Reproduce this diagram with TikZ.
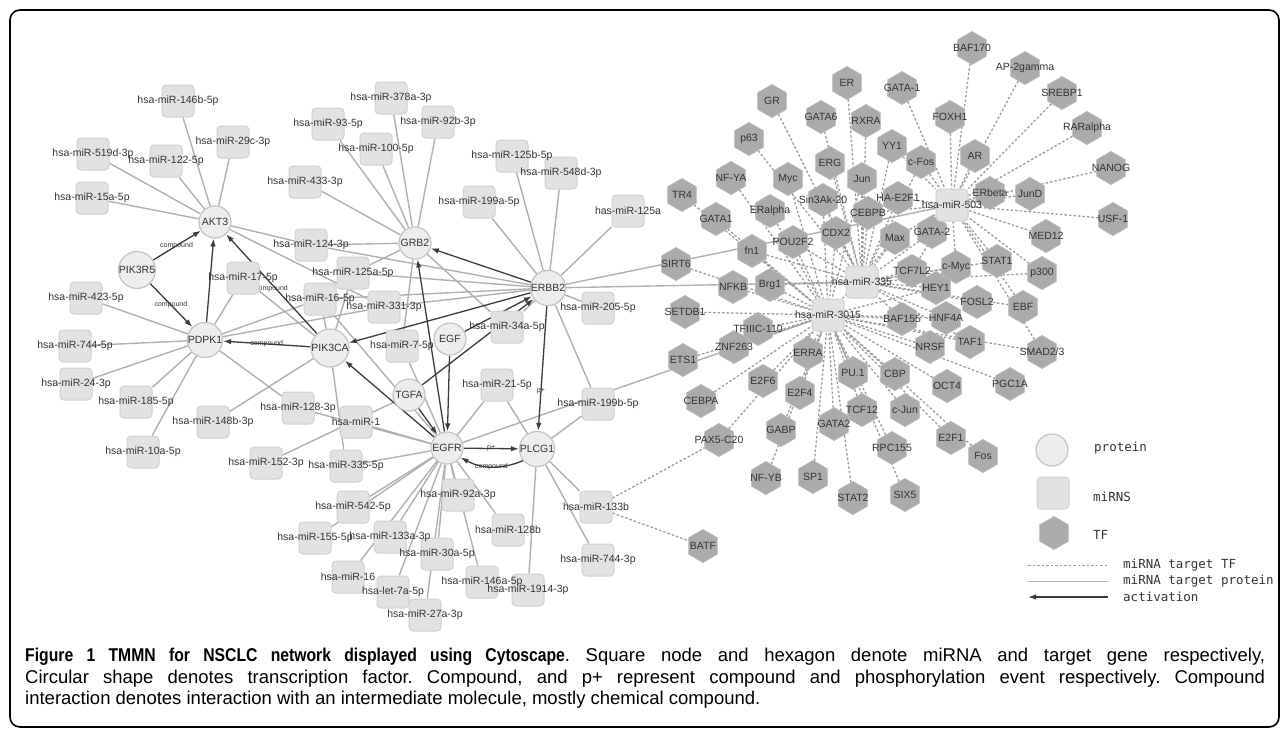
\documentclass[tikz,border=0pt]{standalone}
\usepackage{fontspec}
\setmainfont{Liberation Sans}[BoldFeatures={FakeStretch=0.85}]
\newfontfamily\legfont{DejaVu Sans Mono}
\usetikzlibrary{shapes.geometric,arrows.meta,calc}
\pgfdeclarelayer{bg}\pgfdeclarelayer{fg}\pgfsetlayers{bg,main,fg}
\definecolor{protfill}{HTML}{EDEDED}
\definecolor{protline}{HTML}{C4C4C4}
\definecolor{mirfill}{HTML}{E2E2E2}
\definecolor{mirline}{HTML}{D0D0D0}
\definecolor{tffill}{HTML}{ABABAB}
\definecolor{tfline}{HTML}{B9B9B9}
\definecolor{lbltext}{HTML}{333333}
\definecolor{edgecol}{HTML}{B0B0B0}
\definecolor{dashcol}{HTML}{9C9C9C}
\definecolor{actcol}{HTML}{3C3C3C}
\newcommand\lblfont{\fontsize{10.5}{12}\selectfont}
\newcommand\elblfont{\fontsize{7}{8}\selectfont}
\newcommand\capfont{\fontsize{18.5}{21.5}\selectfont}
\tikzset{
  prot/.style={circle, draw=protline, fill=protfill, line width=1.2pt, minimum size=32pt, inner sep=0pt, font=\lblfont, text=lbltext},
  mirbox/.style={rectangle, rounded corners=4pt, draw=mirline, fill=mirfill, line width=1pt, minimum size=32pt, inner sep=0pt},
  tfbox/.style={regular polygon, regular polygon sides=6, shape border rotate=30, draw=tfline, fill=tffill, line width=0.8pt, minimum size=33pt, inner sep=0pt},
  lbl/.style={font=\lblfont, text=lbltext, inner sep=0pt},
  gedge/.style={draw=edgecol, line width=1.4pt},
  tfedge/.style={draw=dashcol, line width=1.3pt, dash pattern=on 2.5pt off 2pt},
  act/.style={draw=actcol, line width=1.3pt, -{Latex[length=8pt,width=5.5pt]}},
  elbl/.style={font=\elblfont, text=lbltext, inner sep=0.5pt},
  legtext/.style={font=\legfont\fontsize{12.5}{14}\selectfont, text=lbltext, anchor=west, inner sep=0pt},
  frame/.style={draw=black, line width=1.6pt, rounded corners=10pt},
  captext/.style={font=\capfont, text width=1240pt, align=justify, anchor=north west, inner sep=0pt}
}
\newcommand\mirn[4]{\node[mirbox] (#1) at (#2,#3) {};\begin{pgfonlayer}{fg}\node[lbl] at (#1) {#4};\end{pgfonlayer}}
\newcommand\tfn[4]{\node[tfbox] (#1) at (#2,#3) {};\begin{pgfonlayer}{fg}\node[lbl] at (#1) {#4};\end{pgfonlayer}}
\begin{document}
\frenchspacing
\begin{tikzpicture}[x=1pt,y=-1pt]
\useasboundingbox (0,0) rectangle (1285,734);
\draw[frame] (10,10) rectangle (1279,727);

% ---------- proteins ----------
\node[prot] (AKT3) at (215,222) {AKT3};
\node[prot] (PIK3R5) at (137,270) {PIK3R5};
\node[prot] (PDPK1) at (205,340) {PDPK1};
\node[prot] (PIK3CA) at (330,348) {PIK3CA};
\node[prot] (GRB2) at (415,243) {GRB2};
\node[prot] (ERBB2) at (548,288) {ERBB2};
\node[prot] (EGF) at (450,339) {EGF};
\node[prot] (TGFA) at (409,395) {TGFA};
\node[prot] (EGFR) at (447,448) {EGFR};
\node[prot] (PLCG1) at (537,449) {PLCG1};

% ---------- miRNAs ----------
\mirn{m146b}{178}{101}{hsa-miR-146b-5p}
\mirn{m29c}{233}{142}{hsa-miR-29c-3p}
\mirn{m519d}{93}{154}{hsa-miR-519d-3p}
\mirn{m122}{166}{161}{hsa-miR-122-5p}
\mirn{m15a}{92}{198}{hsa-miR-15a-5p}
\mirn{m124}{311}{245}{hsa-miR-124-3p}
\mirn{m17}{243}{278}{hsa-miR-17-5p}
\mirn{m423}{86}{298}{hsa-miR-423-5p}
\mirn{m744f}{75}{346}{hsa-miR-744-5p}
\mirn{m24}{76}{384}{hsa-miR-24-3p}
\mirn{m185}{136}{402}{hsa-miR-185-5p}
\mirn{m10a}{143}{452}{hsa-miR-10a-5p}
\mirn{m148b}{213}{422}{hsa-miR-148b-3p}
\mirn{m128}{298}{408}{hsa-miR-128-3p}
\mirn{m152}{266}{463}{hsa-miR-152-3p}
\mirn{m335f}{346}{466}{hsa-miR-335-5p}
\mirn{m1}{356}{422}{hsa-miR-1}
\mirn{m16f}{320}{299}{hsa-miR-16-5p}
\mirn{m125af}{353}{273}{hsa-miR-125a-5p}
\mirn{m331}{384}{307}{hsa-miR-331-3p}
\mirn{m7}{402}{346}{hsa-miR-7-5p}
\mirn{m34a}{507}{327}{hsa-miR-34a-5p}
\mirn{m21}{497}{385}{hsa-miR-21-5p}
\mirn{m433}{305}{182}{hsa-miR-433-3p}
\mirn{m93}{328}{124}{hsa-miR-93-5p}
\mirn{m378a}{391}{98}{hsa-miR-378a-3p}
\mirn{m92b}{438}{122}{hsa-miR-92b-3p}
\mirn{m100}{376}{149}{hsa-miR-100-5p}
\mirn{m199a}{479}{202}{hsa-miR-199a-5p}
\mirn{m125b}{512}{156}{hsa-miR-125b-5p}
\mirn{m548d}{561}{173}{hsa-miR-548d-3p}
\mirn{m125a}{628}{211}{has-miR-125a}
\mirn{m205}{598}{308}{hsa-miR-205-5p}
\mirn{m199b}{598}{404}{hsa-miR-199b-5p}
\mirn{m92a}{458}{495}{hsa-miR-92a-3p}
\mirn{m542}{353}{507}{hsa-miR-542-5p}
\mirn{m155}{315}{538}{hsa-miR-155-5p}
\mirn{m133a}{390}{537}{hsa-miR-133a-3p}
\mirn{m30a}{437}{554}{hsa-miR-30a-5p}
\mirn{m16}{348}{577}{hsa-miR-16}
\mirn{let7a}{393}{592}{hsa-let-7a-5p}
\mirn{m146a}{482}{582}{hsa-miR-146a-5p}
\mirn{m27a}{425}{615}{hsa-miR-27a-3p}
\mirn{m1914}{528}{590}{hsa-miR-1914-3p}
\mirn{m128b}{508}{530}{hsa-miR-128b}
\mirn{m744t}{598}{560}{hsa-miR-744-3p}
\mirn{m133b}{596}{507}{hsa-miR-133b}

% ---------- TFs ----------
\tfn{tBAF170}{972}{48}{BAF170}
\tfn{tAPtwo}{1025}{68}{AP-2gamma}
\tfn{tSREBP1}{1062}{93}{SREBP1}
\tfn{tRARa}{1087}{128}{RARalpha}
\tfn{tNANOG}{1111}{168}{NANOG}
\tfn{tUSF1}{1113}{219}{USF-1}
\tfn{tMED12}{1046}{236}{MED12}
\tfn{tAR}{975}{156}{AR}
\tfn{tFOXH1}{950}{117}{FOXH1}
\tfn{tGATA1b}{902}{88}{GATA-1}
\tfn{tER}{847}{83}{ER}
\tfn{tGR}{772}{101}{GR}
\tfn{tGATA6}{821}{117}{GATA6}
\tfn{tRXRA}{866}{121}{RXRA}
\tfn{tp63}{749}{139}{p63}
\tfn{tYY1}{892}{146}{YY1}
\tfn{tERG}{830}{163}{ERG}
\tfn{tcFos}{921}{162}{c-Fos}
\tfn{tNFYA}{731}{178}{NF-YA}
\tfn{tMyc}{788}{179}{Myc}
\tfn{tJun}{862}{179}{Jun}
\tfn{tTR4}{682}{195}{TR4}
\tfn{tSin3}{823}{200}{Sin3Ak-20}
\tfn{tHAE2F1}{898}{198}{HA-E2F1}
\tfn{tERbeta}{990}{193}{ERbeta}
\tfn{tJunD}{1030}{194}{JunD}
\tfn{tGATA1a}{716}{219}{GATA1}
\tfn{tERa}{770}{211}{ERalpha}
\tfn{tCEBPB}{868}{213}{CEBPB}
\tfn{tPOU}{793}{242}{POU2F2}
\tfn{tCDX2}{836}{233}{CDX2}
\tfn{tMax}{895}{238}{Max}
\tfn{tGATA2b}{932}{232}{GATA-2}
\tfn{tfn1}{752}{251}{fn1}
\tfn{tSIRT6}{676}{264}{SIRT6}
\tfn{tNFKB}{733}{287}{NFKB}
\tfn{tBrg1}{770}{285}{Brg1}
\tfn{tTCF7L2}{912}{271}{TCF7L2}
\tfn{tcMyc}{956}{267}{c-Myc}
\tfn{tSTAT1}{997}{261}{STAT1}
\tfn{tp300}{1042}{273}{p300}
\tfn{tHEY1}{936}{288}{HEY1}
\tfn{tFOSL2}{977}{302}{FOSL2}
\tfn{tEBF}{1023}{307}{EBF}
\tfn{tSETDB1}{685}{312}{SETDB1}
\tfn{tTFIIIC}{758}{329}{TFIIIC-110}
\tfn{tBAF155}{902}{319}{BAF155}
\tfn{tHNF4A}{946}{318}{HNF4A}
\tfn{tTAF1}{970}{342}{TAF1}
\tfn{tSMAD}{1042}{352}{SMAD2/3}
\tfn{tZNF263}{734}{347}{ZNF263}
\tfn{tETS1}{683}{360}{ETS1}
\tfn{tERRA}{808}{353}{ERRA}
\tfn{tNRSF}{930}{347}{NRSF}
\tfn{tE2F6}{763}{381}{E2F6}
\tfn{tE2F4}{800}{393}{E2F4}
\tfn{tPU1}{853}{373}{PU.1}
\tfn{tCBP}{895}{374}{CBP}
\tfn{tOCT4}{947}{386}{OCT4}
\tfn{tPGC1A}{1010}{384}{PGC1A}
\tfn{tCEBPA}{701}{401}{CEBPA}
\tfn{tTCF12}{862}{410}{TCF12}
\tfn{tcJun}{905}{410}{c-Jun}
\tfn{tGATA2a}{834}{424}{GATA2}
\tfn{tGABP}{781}{430}{GABP}
\tfn{tPAX5}{719}{440}{PAX5-C20}
\tfn{tRPC155}{892}{448}{RPC155}
\tfn{tE2F1}{951}{438}{E2F1}
\tfn{tFos}{983}{456}{Fos}
\tfn{tNFYB}{766}{478}{NF-YB}
\tfn{tSP1}{813}{477}{SP1}
\tfn{tSTAT2}{853}{498}{STAT2}
\tfn{tSIX5}{905}{495}{SIX5}
\tfn{tBATF}{703}{546}{BATF}

% central miRNAs of the TF cluster
\mirn{mA}{952}{205}{hsa-miR-503}
\mirn{mB}{862}{282}{hsa-miR-335}
\mirn{mC}{828}{315}{hsa-miR-3015}

% ---------- edges ----------
\begin{pgfonlayer}{bg}
\foreach \a/\b in {AKT3/m146b,AKT3/m29c,AKT3/m519d,AKT3/m122,AKT3/m15a,AKT3/m124,AKT3/m331,
  GRB2/m433,GRB2/m93,GRB2/m378a,GRB2/m100,GRB2/m92b,GRB2/m124,GRB2/m125af,GRB2/m7,GRB2/m34a,
  ERBB2/m199a,ERBB2/m125b,ERBB2/m548d,ERBB2/m125a,ERBB2/m205,ERBB2/m34a,ERBB2/m199b,ERBB2/m16f,ERBB2/m331,ERBB2/m125af,ERBB2/m124,ERBB2/mA,ERBB2/mB,
  PDPK1/m423,PDPK1/m744f,PDPK1/m24,PDPK1/m185,PDPK1/m10a,PDPK1/m128,PDPK1/m17,PDPK1/m16f,PDPK1/m331,
  PIK3CA/m17,PIK3CA/m16f,PIK3CA/m148b,PIK3CA/m335f,PIK3CA/m125af,
  EGFR/m1,EGFR/m335f,EGFR/m128,EGFR/m542,EGFR/m155,EGFR/m133a,EGFR/m16,EGFR/let7a,EGFR/m30a,EGFR/m27a,EGFR/m146a,EGFR/m92a,EGFR/m128b,EGFR/m7,EGFR/m21,EGFR/mC,EGFR/m16f,
  TGFA/m152,
  PLCG1/m21,PLCG1/m133b,PLCG1/m744t,PLCG1/m1914,PLCG1/m199b}
  \draw[gedge] (\a) -- (\b);
\foreach \t in {tBAF170,tAPtwo,tSREBP1,tRARa,tNANOG,tUSF1,tMED12,tAR,tFOXH1,tGATA1b,tERbeta,tJunD,tcFos,tYY1,tHAE2F1,tGATA2b,tp300,tSTAT1,tEBF,tcMyc,tTCF7L2,tMax,tCEBPB,tSMAD}
  \draw[tfedge] (\t) -- (mA);
\foreach \t in {tER,tGR,tGATA6,tRXRA,tERG,tJun,tSin3,tCEBPB,tCDX2,tMax,tTCF7L2,tcMyc,tHEY1,tFOSL2,tEBF,tTAF1,tHNF4A,tp63,tPOU,tfn1,tBrg1,tGATA2b,tHAE2F1,tYY1,tcFos,tBAF155,tSTAT1,tp300}
  \draw[tfedge] (\t) -- (mB);
\foreach \t in {tTR4,tGATA1a,tNFYA,tMyc,tERa,tSIRT6,tNFKB,tSETDB1,tTFIIIC,tZNF263,tETS1,tCEBPA,tE2F6,tE2F4,tERRA,tPU1,tCBP,tTCF12,tcJun,tGATA2a,tGABP,tNFYB,tSP1,tSTAT2,tRPC155,tSIX5,tE2F1,tFos,tOCT4,tNRSF,tPGC1A,tBAF155,tHNF4A,tPAX5,tSMAD,tPOU,tfn1,tBrg1,tCDX2,tSin3,tJun,tHEY1,tTAF1,tMax}
  \draw[tfedge] (\t) -- (mC);
\draw[tfedge] (m133b) -- (tPAX5);
\draw[tfedge] (m133b) -- (tBATF);
% activation
\draw[act] (PIK3R5) -- node[elbl, pos=0.49] {compound} (AKT3);
\draw[act] (PIK3R5) -- node[elbl, pos=0.49] {compound} (PDPK1);
\draw[act] (PDPK1) -- (AKT3);
\draw[act] (PIK3CA) -- node[elbl, pos=0.5, yshift=-5pt] {compound} (AKT3);
\draw[act] (PIK3CA) -- node[elbl, pos=0.5] {compound} (PDPK1);
\draw[act] (ERBB2) -- (PIK3CA);
\draw[act] (ERBB2) -- (GRB2);
\draw[act] (EGFR) -- (GRB2);
\draw[act] (EGFR) -- (PIK3CA);
\draw[act] (EGF) -- (EGFR);
\draw[act] (TGFA) -- (EGFR);
\draw[act] (EGF) -- (ERBB2);
\draw[act] (TGFA) -- (ERBB2);
\draw[act] (ERBB2) -- node[elbl, pos=0.68] {p+} (PLCG1);
\draw[act] (EGFR) -- node[elbl, pos=0.5] {p+} (PLCG1);
\draw[act] (PLCG1.220) to[bend left=25] node[elbl, pos=0.5] {compound} (EGFR.-35);
\end{pgfonlayer}

% ---------- legend ----------
\node[prot] (legprot) at (1052,450) {};
\node[legtext] (legprottxt) at (1094,448) {protein};
\node[mirbox] (legmir) at (1053,493) {};
\node[legtext] (legmirtxt) at (1093,497) {miRNS};
\node[tfbox] (legtf) at (1054,533) {};
\node[legtext] (legtftxt) at (1093,535) {TF};
\coordinate (la1) at (1028,565); \coordinate (lb1) at (1108,565);
\coordinate (la2) at (1028,581); \coordinate (lb2) at (1108,581);
\coordinate (la3) at (1028,597); \coordinate (lb3) at (1108,597);
\draw[tfedge, line width=1pt] (la1) -- (lb1);
\draw[gedge, line width=1pt] (la2) -- (lb2);
\draw[act] (lb3) -- (la3);
\node[legtext] (legt1) at (1123,565) {miRNA target TF};
\node[legtext] (legt2) at (1123,581) {miRNA target protein};
\node[legtext] (legt3) at (1123,597) {activation};

% ---------- caption ----------
\node[captext] (cap) at (25,648) {{\bfseries Figure 1 TMMN for NSCLC network displayed using Cytoscape}. Square node and hexagon denote miRNA and target gene respectively,\linebreak Circular shape denotes transcription factor. Compound, and p+ represent compound and phosphorylation event respectively. Compound\linebreak interaction denotes interaction with an intermediate molecule, mostly chemical compound.};
\end{tikzpicture}
\end{document}
